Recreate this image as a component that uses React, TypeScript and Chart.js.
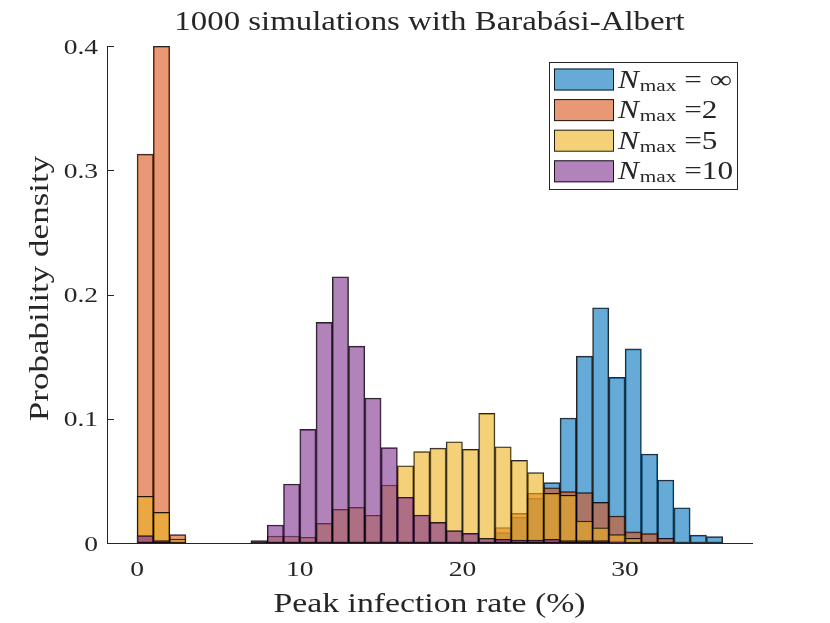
import React, { useEffect, useRef } from 'react';
import { Chart, registerables } from 'chart.js';

Chart.register(...registerables);

// bin left edges (bin width 1, % units)
const binStarts = Array.from({ length: 36 }, (_, i) => i);

const infValues = [
    0, 0, 0, 0, 0, 0, 0, 0, 0, 0,
    0, 0, 0, 0, 0, 0, 0, 0, 0, 0,
    0, 0, 0.0083, 0.0207, 0.036, 0.0486, 0.1006, 0.1504, 0.1893, 0.1333,
    0.1563, 0.0716, 0.0507, 0.0284, 0.0064, 0.0051,
];
const n2Values = [
    0.313, 0.3998, 0.0067, 0, 0, 0, 0, 0, 0, 0,
    0, 0, 0, 0, 0, 0, 0, 0, 0, 0,
    0, 0, 0.0125, 0.0239, 0.0401, 0.0445, 0.0413, 0.0405, 0.0327, 0.0217,
    0.009, 0.0075, 0.0038, 0, 0, 0,
];
const n5Values = [
    0.0376, 0.0247, 0.0032, 0, 0, 0, 0, 0.001, 0.0056, 0.0056,
    0.0046, 0.0158, 0.0271, 0.0287, 0.0223, 0.0467, 0.0622, 0.0735, 0.0764, 0.0815,
    0.0754, 0.1043, 0.0775, 0.0665, 0.0566, 0.04, 0.0384, 0.0177, 0.0123, 0.0068,
    0.0038, 0, 0, 0, 0, 0,
];
const n10Values = [
    0.0059, 0.002, 0, 0, 0, 0, 0, 0.002, 0.0145, 0.0475,
    0.0915, 0.1776, 0.2143, 0.1585, 0.1167, 0.0767, 0.0368, 0.0225, 0.0166, 0.0099,
    0.0078, 0.0038, 0.003, 0.0024, 0.0024, 0.003, 0.002, 0.002, 0.002, 0.001,
    0, 0, 0, 0, 0, 0,
];

const xTicks = [0, 10, 20, 30];
const yTicks = [0, 0.1, 0.2, 0.3, 0.4];
const yTickLabels = ['0', '0.1', '0.2', '0.3', '0.4'];
const legendValues = [' = \u221E', ' =2', ' =5', ' =10'];

const seriesColors = [
    [0, 114, 189],
    [217, 83, 25],
    [237, 177, 32],
    [126, 47, 142],
];

const FONT = '"Liberation Serif", "Times New Roman", serif';
const STRETCH = 1.25;
const AXIS_COLOR = '#262626';

const rgba = (c: number[], a: number) => `rgba(${c[0]},${c[1]},${c[2]},${a})`;

function stretchedText(
    ctx: CanvasRenderingContext2D,
    text: string,
    x: number,
    y: number,
    size: number,
    align: CanvasTextAlign,
    italic = false,
    rotate = 0
) {
    ctx.save();
    ctx.font = `${italic ? 'italic ' : ''}${size}px ${FONT}`;
    ctx.textAlign = align;
    ctx.textBaseline = 'alphabetic';
    ctx.fillStyle = '#262626';
    ctx.translate(x, y);
    if (rotate) ctx.rotate(rotate);
    ctx.scale(STRETCH, 1);
    ctx.fillText(text, 0, 0);
    ctx.restore();
}

function textWidth(ctx: CanvasRenderingContext2D, text: string, size: number, italic = false) {
    ctx.save();
    ctx.font = `${italic ? 'italic ' : ''}${size}px ${FONT}`;
    const w = ctx.measureText(text).width * STRETCH;
    ctx.restore();
    return w;
}

const decorPlugin = {
    id: 'matlabDecor',
    afterDraw(chart: any) {
        const { ctx, chartArea, scales } = chart;
        const xs = scales.x;
        const ys = scales.y;

        // inward ticks
        ctx.save();
        ctx.strokeStyle = AXIS_COLOR;
        ctx.lineWidth = 1;
        ctx.beginPath();
        yTicks.forEach((v) => {
            const y = Math.round(ys.getPixelForValue(v)) + 0.5;
            ctx.moveTo(chartArea.left, y);
            ctx.lineTo(chartArea.left + 7, y);
        });
        xTicks.forEach((v) => {
            const x = Math.round(xs.getPixelForValue(v)) + 0.5;
            ctx.moveTo(x, chartArea.bottom);
            ctx.lineTo(x, chartArea.bottom - 7);
        });
        ctx.stroke();
        ctx.restore();

        // tick labels
        yTicks.forEach((v, i) => {
            stretchedText(ctx, yTickLabels[i], chartArea.left - 9, ys.getPixelForValue(v) + 7.5, 22, 'right');
        });
        xTicks.forEach((v) => {
            stretchedText(ctx, String(v), xs.getPixelForValue(v), chartArea.bottom + 33, 22, 'center');
        });

        const cx = (chartArea.left + chartArea.right) / 2;
        const cy = (chartArea.top + chartArea.bottom) / 2;
        stretchedText(ctx, '1000 simulations with Barab\u00E1si-Albert', cx, 30, 26.3, 'center');
        stretchedText(ctx, 'Peak infection rate (%)', cx, 612, 27, 'center');
        stretchedText(ctx, 'Probability density', 48, cy - 6, 28, 'center', false, -Math.PI / 2);

        // legend
        const boxRight = chartArea.right - 15;
        const boxLeft = boxRight - 188;
        const boxTop = chartArea.top + 16;
        const boxBottom = boxTop + 127;
        ctx.save();
        ctx.fillStyle = '#ffffff';
        ctx.fillRect(boxLeft, boxTop, boxRight - boxLeft, boxBottom - boxTop);
        ctx.strokeStyle = '#262626';
        ctx.lineWidth = 1;
        ctx.strokeRect(Math.round(boxLeft) + 0.5, Math.round(boxTop) + 0.5, boxRight - boxLeft, boxBottom - boxTop);
        ctx.restore();

        legendValues.forEach((label, i) => {
            const rowC = boxTop + 17.5 + i * 30.6;
            ctx.save();
            ctx.fillStyle = rgba(seriesColors[i], 0.6);
            ctx.fillRect(boxLeft + 5, rowC - 11, 60, 22);
            ctx.strokeStyle = 'rgba(0,0,0,0.85)';
            ctx.strokeRect(boxLeft + 5.5, rowC - 10.5, 59, 21);
            ctx.restore();
            let tx = boxLeft + 69;
            stretchedText(ctx, 'N', tx, rowC + 8, 25, 'left', true);
            tx += textWidth(ctx, 'N', 25, true) + 1;
            stretchedText(ctx, 'max', tx, rowC + 11, 17, 'left');
            tx += textWidth(ctx, 'max', 17);
            stretchedText(ctx, label, tx, rowC + 8, 25, 'left');
        });
    },
};

const App: React.FC = () => {
    const canvasRef = useRef<HTMLCanvasElement | null>(null);
    const chartInstance = useRef<Chart | null>(null);

    useEffect(() => {
        if (!canvasRef.current) return;
        if (chartInstance.current) chartInstance.current.destroy();

        const makeSet = (label: string, values: number[], color: number[], order: number) => ({
            label,
            data: binStarts.map((b, i) => ({ x: b + 0.5, y: values[i] })),
            backgroundColor: rgba(color, 0.6),
            borderColor: 'rgba(0,0,0,0.85)',
            borderWidth: 1,
            borderSkipped: false,
            barPercentage: 1,
            categoryPercentage: 1,
            grouped: false,
            order,
        });

        chartInstance.current = new Chart(canvasRef.current, {
            type: 'bar',
            data: {
                datasets: [
                    makeSet('Nmax = inf', infValues, seriesColors[0], 4),
                    makeSet('Nmax = 2', n2Values, seriesColors[1], 3),
                    makeSet('Nmax = 5', n5Values, seriesColors[2], 2),
                    makeSet('Nmax = 10', n10Values, seriesColors[3], 1),
                ] as any,
            },
            options: {
                responsive: false,
                animation: false,
                devicePixelRatio: 1,
                layout: { padding: { left: 0, right: 78, top: 46, bottom: 0 } },
                plugins: {
                    legend: { display: false },
                    title: { display: false },
                    tooltip: { enabled: false },
                },
                scales: {
                    x: {
                        type: 'linear',
                        offset: false,
                        min: -1.85,
                        max: 37.8,
                        grid: { display: false, offset: false },
                        border: { display: true, color: AXIS_COLOR, width: 1 },
                        ticks: { display: false },
                        afterFit: (s: any) => {
                            s.height = 80;
                        },
                    },
                    y: {
                        type: 'linear',
                        min: 0,
                        max: 0.4,
                        grid: { display: false },
                        border: { display: true, color: AXIS_COLOR, width: 1 },
                        ticks: { display: false },
                        afterFit: (s: any) => {
                            s.width = 107;
                        },
                    },
                },
            },
            plugins: [decorPlugin],
        });

        return () => {
            if (chartInstance.current) {
                chartInstance.current.destroy();
                chartInstance.current = null;
            }
        };
    }, []);

    return (
        <div style={{ position: 'fixed', left: 0, top: 0, width: 830, height: 623, background: '#fff' }}>
            <canvas ref={canvasRef} width={830} height={623} />
        </div>
    );
};

export default App;
